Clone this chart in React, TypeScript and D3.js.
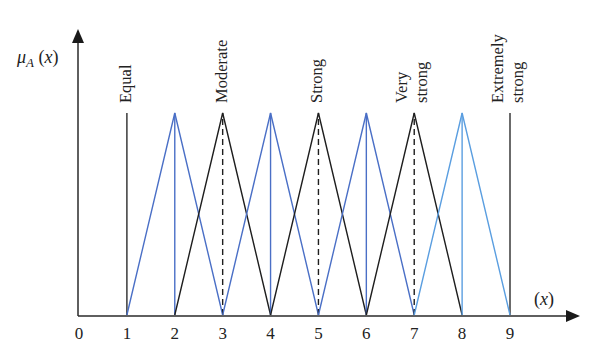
import React from "react";
import * as d3 from "d3";

const ticks = [0, 1, 2, 3, 4, 5, 6, 7, 8, 9];
const triangleCenters = [2, 3, 4, 5, 6, 7, 8];
const triangleGroup = ["blue", "black", "blue", "black", "blue", "black", "light"];
const verticalStyle = ["solid", "dashed", "solid", "dashed", "solid", "dashed", "solid"];
const boundaryLines = [1, 9];
const labelPositions = [1, 3, 5, 7, 9];
const labelLines = [["Equal"], ["Moderate"], ["Strong"], ["Very", "strong"], ["Extremely", "strong"]];

const W = 600, H = 359;
const colors: Record<string, string> = { blue: "#4a6fc6", black: "#1e1e1e", light: "#5a9ee0" };

export default function App() {
  const x = d3.scaleLinear().domain([0, 9]).range([79, 510]);
  const y = d3.scaleLinear().domain([0, 1]).range([315, 113]);
  const line = d3.line<[number, number]>().x(d => x(d[0])).y(d => y(d[1]));
  const font = "'Liberation Serif', 'Times New Roman', serif";
  return (
    <svg width={W} height={H} style={{ position: "absolute", left: 0, top: 0, background: "#fff" }}>
      {/* axes */}
      <line x1={78} y1={316} x2={570} y2={316} stroke="#2a2a2a" strokeWidth={1.5} />
      <path d="M580,316 L566,310 L566,322 Z" fill="#1a1a1a" />
      <line x1={78} y1={316} x2={78} y2={40} stroke="#2a2a2a" strokeWidth={1.5} />
      <path d="M78,29 L72,43 L84,43 Z" fill="#1a1a1a" />
      <text x={17} y={63} fontFamily={font} fontSize={18} fontStyle="italic" fill="#222">
        μ<tspan fontSize={13} dy={4}>A</tspan><tspan dy={-4} fontStyle="normal">{"\u00A0("}</tspan>x<tspan fontStyle="normal">)</tspan>
      </text>
      <text x={534} y={305} fontFamily={font} fontSize={18} fill="#222">
        (<tspan fontStyle="italic">x</tspan>)
      </text>
      {ticks.map(t => (
        <text key={t} x={x(t)} y={339} textAnchor="middle" fontFamily={font} fontSize={17} fill="#222">{t}</text>
      ))}
      {/* boundary verticals */}
      {boundaryLines.map(b => (
        <line key={b} x1={x(b)} x2={x(b)} y1={y(0)} y2={y(1)} stroke="#3a3a3a" strokeWidth={1.5} />
      ))}
      {/* triangles */}
      {triangleCenters.map((c, i) => {
        const col = colors[triangleGroup[i]];
        return (
          <g key={c}>
            <path d={line([[c - 1, 0], [c, 1], [c + 1, 0]]) || ""} fill="none" stroke={col} strokeWidth={1.4} />
            <line x1={x(c)} x2={x(c)} y1={y(0)} y2={y(1)} stroke={col} strokeWidth={1.4}
              strokeDasharray={verticalStyle[i] === "dashed" ? "6,4" : undefined} />
          </g>
        );
      })}
      {/* rotated labels */}
      {labelPositions.map((p, i) => {
        const lines = labelLines[i];
        const offsets = lines.length === 1 ? [4] : [-7, 13];
        return lines.map((t, j) => (
          <text key={p + "-" + j} transform={`translate(${x(p) + offsets[j]},103) rotate(-90)`}
            fontFamily={font} fontSize={16.5} fill="#222">{t}</text>
        ));
      })}
    </svg>
  );
}
